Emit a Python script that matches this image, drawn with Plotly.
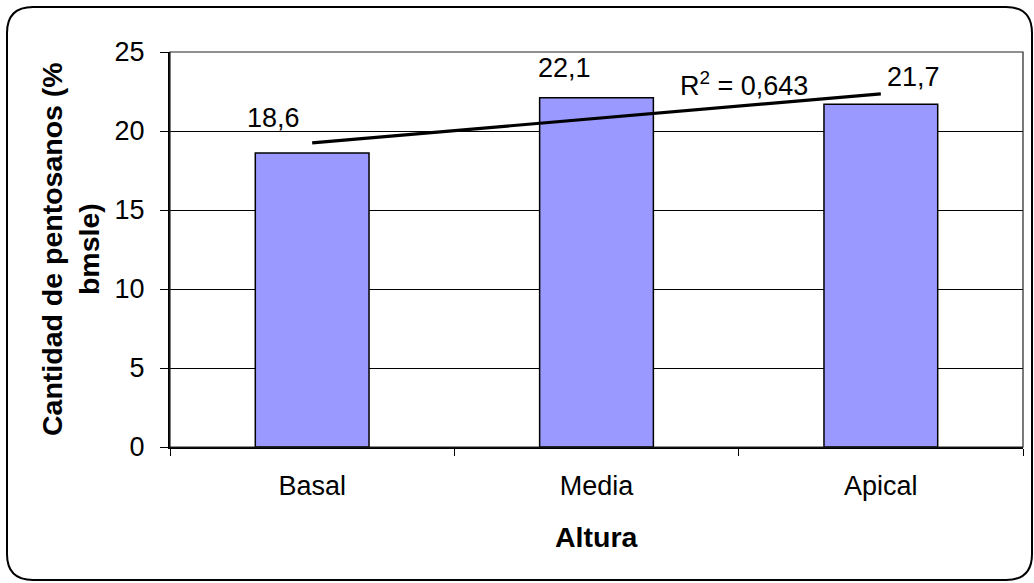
import numpy as np
import plotly.graph_objects as go

# Data
categorias = ["Basal", "Media", "Apical"]
pentosanos = [18.6, 22.1, 21.7]
etiquetas = ["18,6", "22,1", "21,7"]
r2_texto = "R<sup>2</sup> = 0,643"

W, H = 1034, 583
ML, MR, MT, MB = 170, 11, 52, 136
PW, PH = W - ML - MR, H - MT - MB

FONT = "Liberation Sans, Arial, sans-serif"
FS = 27
FS_TITLE = 28.5


def px_x(x):
    return (x - ML) / PW


def px_y(y):
    return (H - MB - y) / PH


fig = go.Figure()

fig.add_trace(go.Bar(
    x=categorias, y=pentosanos, width=0.4,
    marker=dict(color="#9999FF", line=dict(color="black", width=1.5)),
    hoverinfo="skip",
))

# Linear trend over category positions
xi = np.arange(1, len(pentosanos) + 1)
m, b = np.polyfit(xi, pentosanos, 1)
fig.add_trace(go.Scatter(
    x=[categorias[0], categorias[-1]],
    y=[m * xi[0] + b, m * xi[-1] + b],
    mode="lines", line=dict(color="black", width=3.2),
    hoverinfo="skip",
))

# Data labels
shifts = [(-39, 35), (-32, 30), (33, 27)]
for cat, val, txt, (dx, dy) in zip(categorias, pentosanos, etiquetas, shifts):
    fig.add_annotation(x=cat, y=val, text=txt, showarrow=False,
                       xshift=dx, yshift=dy, xanchor="center", yanchor="middle",
                       font=dict(family=FONT, size=FS, color="black"))

fig.add_annotation(x=px_x(744), y=px_y(84), xref="paper", yref="paper",
                   text=r2_texto, showarrow=False, xanchor="center", yanchor="middle",
                   font=dict(family=FONT, size=FS, color="black"))

# Axis titles
fig.add_annotation(x=px_x(596), y=px_y(537), xref="paper", yref="paper",
                   text="<b>Altura</b>", showarrow=False, xanchor="center", yanchor="middle",
                   font=dict(family=FONT, size=FS_TITLE, color="black"))
fig.add_annotation(x=px_x(70), y=px_y(249), xref="paper", yref="paper",
                   text="<b>Cantidad de pentosanos (%<br>bmsle)</b>", showarrow=False,
                   textangle=-90, xanchor="center", yanchor="middle",
                   font=dict(family=FONT, size=FS_TITLE, color="black"))

# Rounded outer frame
x0, y0, x1, y1, r = 7, 7, 1032, 580, 26
pts = lambda x, y: f"{px_x(x):.5f},{px_y(y):.5f}"
path = (f"M {pts(x0 + r, y0)} L {pts(x1 - r, y0)} Q {pts(x1, y0)} {pts(x1, y0 + r)} "
        f"L {pts(x1, y1 - r)} Q {pts(x1, y1)} {pts(x1 - r, y1)} "
        f"L {pts(x0 + r, y1)} Q {pts(x0, y1)} {pts(x0, y1 - r)} "
        f"L {pts(x0, y0 + r)} Q {pts(x0, y0)} {pts(x0 + r, y0)} Z")
fig.add_shape(type="path", path=path, xref="paper", yref="paper",
              line=dict(color="black", width=2), layer="below")

# Plot area border
fig.add_shape(type="rect", x0=0, y0=0, x1=1, y1=1, xref="paper", yref="paper",
              line=dict(color="#222222", width=1.2), layer="above")

fig.update_layout(
    width=W, height=H,
    margin=dict(l=ML, r=MR, t=MT, b=MB),
    paper_bgcolor="white", plot_bgcolor="white",
    showlegend=False, hovermode=False,
    font=dict(family=FONT, size=FS, color="black"),
)
fig.update_xaxes(
    type="category", tickson="boundaries", ticks="outside", ticklen=7,
    tickcolor="black", tickwidth=1, showgrid=False,
    showline=True, linecolor="black", linewidth=2,
    tickfont=dict(family=FONT, size=FS, color="black"), ticklabelstandoff=14,
)
fig.update_yaxes(
    range=[0, 25], dtick=5, ticks="outside", ticklen=8, tickcolor="black",
    showgrid=True, gridcolor="black", gridwidth=1, zeroline=False,
    showline=True, linecolor="black", linewidth=2,
    tickfont=dict(family=FONT, size=FS, color="black"), ticklabelstandoff=10,
)

fig.write_html("out.html")
